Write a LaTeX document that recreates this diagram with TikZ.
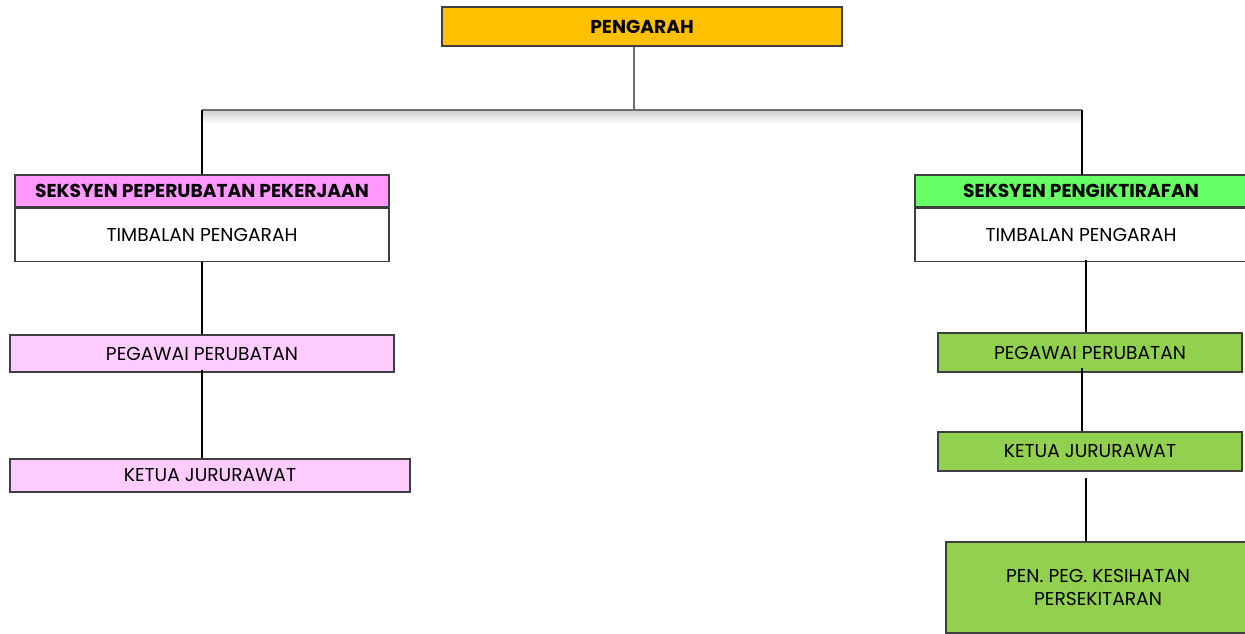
\documentclass[tikz,border=0pt]{standalone}
\usepackage{fontspec}
\setmainfont{Poppins}
\usetikzlibrary{calc}
\definecolor{gold}{HTML}{FFC000}
\definecolor{pinkh}{HTML}{FF99FF}
\definecolor{pinkl}{HTML}{FFCCFF}
\definecolor{greenh}{HTML}{66FF66}
\definecolor{greenl}{HTML}{92D050}
\definecolor{edge}{HTML}{3F3F3F}
\tikzset{
  box/.style={draw=edge, line width=1pt, inner sep=0pt, align=center, font=\fontsize{14}{17.5}\selectfont},
  hdr/.style={box, font=\fontsize{14}{17}\selectfont\bfseries},
  conn/.style={line width=1.5pt, black},
  gconn/.style={line width=1.5pt, color={rgb,255:red,110;green,110;blue,110}},
}
\begin{document}
\begin{tikzpicture}[x=0.75pt,y=-0.75pt]
\useasboundingbox (0,0) rectangle (1245,633);
% top
\node[hdr, fill=gold, minimum width=400*0.75pt, minimum height=39*0.75pt] (pg) at (642,26.5) {PENGARAH};
% shadow of bus
\shade[top color=black!18, bottom color=white] (202,111) rectangle (1082,124);
% left section
\node[hdr, fill=pinkh, minimum width=374*0.75pt, minimum height=32*0.75pt] (lh) at (202,191) {SEKSYEN PEPERUBATAN PEKERJAAN};
\node[box, fill=white, minimum width=374*0.75pt, minimum height=53*0.75pt, anchor=north] (lb) at (lh.south) {TIMBALAN PENGARAH};
% right section
\node[hdr, fill=greenh, minimum width=332*0.75pt, minimum height=32*0.75pt] (rh) at (1081,191) {SEKSYEN PENGIKTIRAFAN};
\node[box, fill=white, minimum width=332*0.75pt, minimum height=53*0.75pt, anchor=north] (rb) at (rh.south) {TIMBALAN PENGARAH};
% left column
\node[box, fill=pinkl, minimum width=384*0.75pt, minimum height=37*0.75pt] (lp) at (202,353.5) {PEGAWAI PERUBATAN};
\node[box, fill=pinkl, minimum width=400*0.75pt, minimum height=33*0.75pt] (lk) at (210,475.5) {KETUA JURURAWAT};
% right column
\node[box, fill=greenl, minimum width=304*0.75pt, minimum height=39*0.75pt] (rp) at (1090,352.5) {PEGAWAI PERUBATAN};
\node[box, fill=greenl, minimum width=304*0.75pt, minimum height=39*0.75pt] (rk) at (1090,451.5) {KETUA JURURAWAT};
\node[box, fill=greenl, minimum width=304*0.75pt, minimum height=91*0.75pt] (rn) at (1098,587.5) {PEN. PEG. KESIHATAN\\PERSEKITARAN};
% connectors
\coordinate (j) at (634,110);
\draw[gconn] (pg.south -| j) -- (j);
\draw[gconn] (202,110) -- (1082,110);
\draw[conn] (lh.north) -- (lh.north |- j);
\draw[conn] (1082,175) -- (1082,110);
\draw[conn] (lb.south) -- (lb.south |- lp.north);
\draw[conn] ($(lp.south)+(0,-0.5)$) ++(0,-2) -- (lk.north -| lb.south);
\draw[conn] (1086,260) -- (rp.north -| 1086,0);
\draw[conn] (1082,368) -- (rk.north -| 1082,0);
\draw[conn] (1086,478) -- (rn.north -| 1086,0);
\end{tikzpicture}
\end{document}
